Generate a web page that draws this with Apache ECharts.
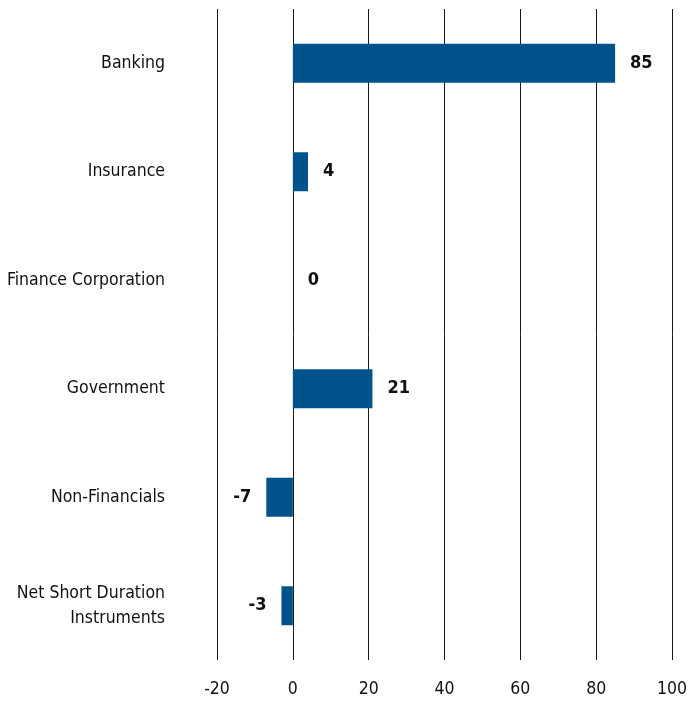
<!DOCTYPE html>
<html><head><meta charset="utf-8">
<script src="https://cdn.jsdelivr.net/npm/echarts@6/dist/echarts.min.js"></script>
<style>html,body{margin:0;padding:0;background:#fff}#c{width:690px;height:703px}</style>
</head><body><div id="c"></div>
<script>
const categories = ["Banking","Insurance","Finance Corporation","Government","Non-Financials","Net Short Duration\nInstruments"];
const values = [85, 4, 0, 21, -7, -3];
const xTicks = [-20, 0, 20, 40, 60, 80, 100];

const FONT = '"Liberation Sans Narrow","Arial Narrow","DejaVu Sans Condensed",sans-serif';
const chart = echarts.init(document.getElementById('c'));
chart.setOption({
  animation: false,
  grid: {left: 217, right: 17, top: 9, bottom: 43, containLabel: false},
  xAxis: {
    type: 'value', min: xTicks[0], max: xTicks[xTicks.length-1], interval: 20,
    axisLine: {show: false}, axisTick: {show: false},
    splitLine: {show: true, lineStyle: {color: '#1a1a1a', width: 1}},
    axisLabel: {fontFamily: FONT, fontSize: 17.5, color: '#111', margin: 20}
  },
  yAxis: {
    type: 'category', inverse: true, data: categories,
    axisLine: {show: false}, axisTick: {show: false},
    axisLabel: {fontFamily: FONT, fontSize: 17.5, color: '#111', margin: 52, align: 'right', lineHeight: 25}
  },
  series: [{
    type: 'bar', barWidth: 39,
    data: values.map(v => v < 0 ? {value: v, label: {position: 'left'}} : v),
    itemStyle: {color: '#00538A'},
    label: {
      show: true, position: 'right', distance: 15,
      fontFamily: FONT, fontSize: 18, fontWeight: 'bold', color: '#111',
      formatter: p => String(p.value)
    }
  }]
});
</script></body></html>
